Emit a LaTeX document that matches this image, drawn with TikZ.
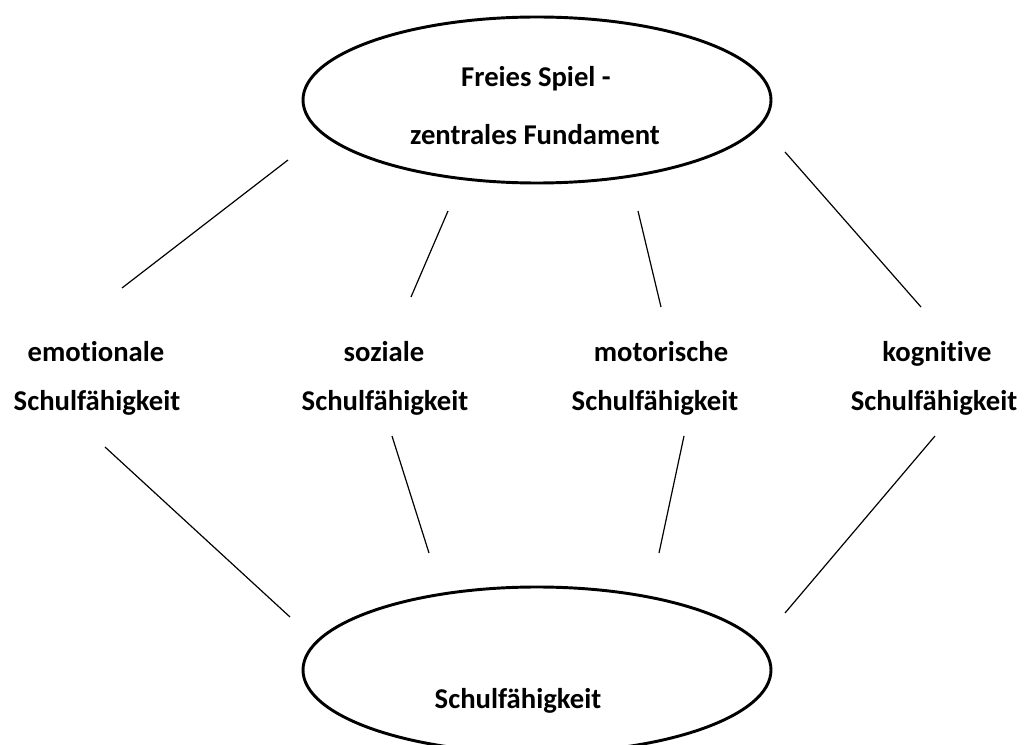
\documentclass[tikz,border=0pt]{standalone}
\usepackage{fontspec}
\setmainfont{Carlito}[Ligatures={NoCommon}]
\usetikzlibrary{shapes.geometric}
\begin{document}
\begin{tikzpicture}[x=0.75pt,y=-0.75pt,
  bigell/.style={draw, ellipse, line width=2.2pt, minimum width=351pt, minimum height=124.5pt, inner sep=0pt},
  lbl/.style={font=\fontsize{21.5}{24}\selectfont\bfseries, anchor=base, inner sep=0pt},
  conn/.style={line width=0.9pt}]
\useasboundingbox (0,0) rectangle (1025,745);
\node[bigell] (top) at (537,100) {};
\node[bigell] (bot) at (537,670) {};
\node[lbl] (t1) at (536,87) {Freies Spiel -};
\node[lbl] (t2) at (535,145) {zentrales Fundament};
\node[lbl] (b1) at (518,708) {Schulfähigkeit};
\node[lbl] (e1) at (96,362) {emotionale};
\node[lbl] (e2) at (97,410) {Schulfähigkeit};
\node[lbl] (s1) at (384,362) {soziale};
\node[lbl] (s2) at (385,410) {Schulfähigkeit};
\node[lbl] (m1) at (661,362) {motorische};
\node[lbl] (m2) at (655,410) {Schulfähigkeit};
\node[lbl] (k1) at (937,362) {kognitive};
\node[lbl] (k2) at (934,410) {Schulfähigkeit};
% connector ends
\coordinate (a1) at (288,160); \coordinate (a2) at (122,288);
\coordinate (b1s) at (448,211); \coordinate (b2s) at (411,297);
\coordinate (c1) at (638,211); \coordinate (c2) at (661,307);
\coordinate (d1) at (785,152); \coordinate (d2) at (921,307);
\coordinate (f1) at (105,447); \coordinate (f2) at (290,617);
\coordinate (g1) at (392,436); \coordinate (g2) at (429,553);
\coordinate (h1) at (684,436); \coordinate (h2) at (659,553);
\coordinate (i1) at (935,436); \coordinate (i2) at (785,613);
\draw[conn] (a1) -- (a2);
\draw[conn] (b1s) -- (b2s);
\draw[conn] (c1) -- (c2);
\draw[conn] (d1) -- (d2);
\draw[conn] (f1) -- (f2);
\draw[conn] (g1) -- (g2);
\draw[conn] (h1) -- (h2);
\draw[conn] (i1) -- (i2);
\end{tikzpicture}
\end{document}
